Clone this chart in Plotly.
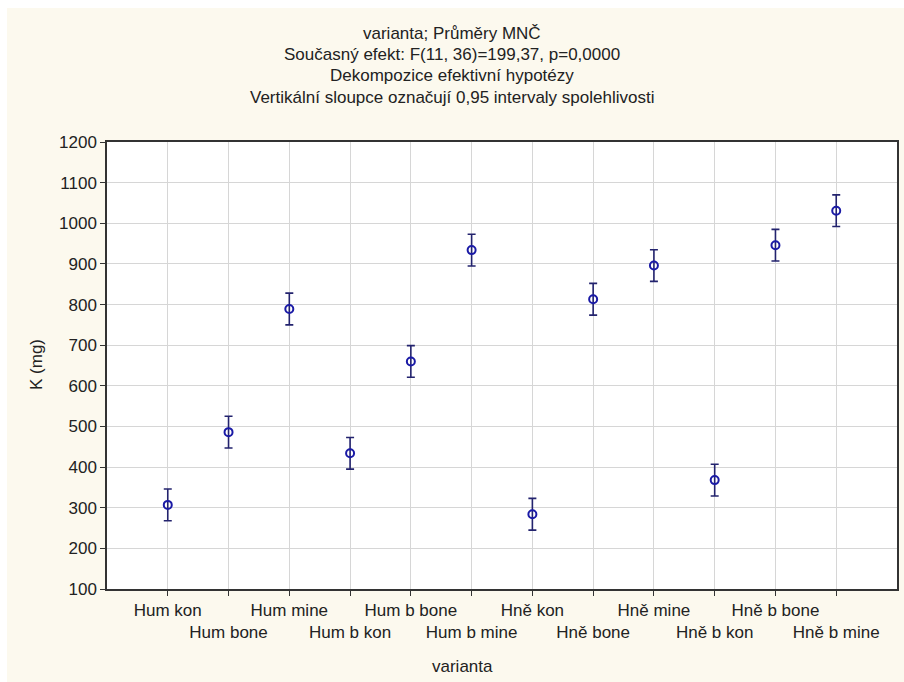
import plotly.graph_objects as go

categories = ["Hum kon", "Hum bone", "Hum mine", "Hum b kon", "Hum b bone", "Hum b mine",
              "Hně kon", "Hně bone", "Hně mine", "Hně b kon", "Hně b bone", "Hně b mine"]
means = [307, 486, 789, 434, 660, 934, 284, 813, 896, 368, 946, 1031]
ci_half = [39, 39, 39, 39, 39, 39, 39, 39, 39, 39, 39, 39]
y_ticks = [100, 200, 300, 400, 500, 600, 700, 800, 900, 1000, 1100, 1200]

title_lines = ["varianta; Průměry MNČ",
               "Současný efekt: F(11, 36)=199,37, p=0,0000",
               "Dekompozice efektivní hypotézy",
               "Vertikální sloupce označují 0,95 intervaly spolehlivosti"]

W, H = 904, 682
L, R, T, B = 107, 7, 142, 93
plot_h = H - T - B
plot_w = W - L - R

x_pos = list(range(1, len(categories) + 1))
tick_text = [c if i % 2 == 0 else "<br>" + c for i, c in enumerate(categories)]

FONT = "Liberation Sans, Arial, sans-serif"
BEIGE = "#fcf9ee"

fig = go.Figure()
fig.add_trace(go.Scatter(
    x=x_pos, y=means, mode="markers",
    marker=dict(symbol="circle-open", size=8, color="#1a1aa6", line=dict(width=2, color="#1a1aa6")),
    error_y=dict(type="data", array=ci_half, visible=True, color="#23236e", thickness=1.6, width=4),
    showlegend=False, hoverinfo="skip",
))

def py(p):
    return (H - B - p) / plot_h

annotations = []
for i, line in enumerate(title_lines):
    annotations.append(dict(text=line, xref="paper", yref="paper",
                            x=(W / 2 - L) / plot_w, y=py(33 + i * 21.4),
                            xanchor="center", yanchor="middle", showarrow=False,
                            font=dict(family=FONT, size=17, color="#222222")))
annotations.append(dict(text="varianta", xref="paper", yref="paper",
                        x=(W / 2 + 10 - L) / plot_w, y=py(666), xanchor="center", yanchor="middle",
                        showarrow=False, font=dict(family=FONT, size=17, color="#222222")))
annotations.append(dict(text="K (mg)", xref="paper", yref="paper",
                        x=(36 - L) / plot_w, y=py(365), xanchor="center", yanchor="middle",
                        textangle=-90, showarrow=False, font=dict(family=FONT, size=17, color="#222222")))

shapes = [
    dict(type="rect", xref="paper", yref="paper", x0=-L / plot_w, x1=(W - L) / plot_w,
         y0=py(0), y1=py(8), fillcolor="white", line=dict(width=0), layer="below"),
    dict(type="rect", xref="paper", yref="paper", x0=-L / plot_w, x1=(7 - L) / plot_w,
         y0=py(H), y1=py(0), fillcolor="white", line=dict(width=0), layer="below"),
]

fig.update_layout(
    width=W, height=H,
    margin=dict(l=L, r=R, t=T, b=B, pad=0, autoexpand=False),
    paper_bgcolor=BEIGE, plot_bgcolor="white",
    annotations=annotations, shapes=shapes,
    xaxis=dict(range=[0, 13], tickmode="array", tickvals=x_pos, ticktext=tick_text,
               tickangle=0, automargin=False,
               showgrid=True, gridcolor="#d6d6d6", gridwidth=1,
               ticks="outside", ticklen=5, tickcolor="#333333",
               showline=True, linecolor="#333333", linewidth=1.5, mirror=True,
               tickfont=dict(family=FONT, size=17, color="#222222"), zeroline=False),
    yaxis=dict(range=[100, 1200], tickmode="array", tickvals=y_ticks, automargin=False,
               showgrid=True, gridcolor="#d6d6d6", gridwidth=1,
               ticks="outside", ticklen=5, tickcolor="#333333",
               showline=True, linecolor="#333333", linewidth=1.5, mirror=True,
               tickfont=dict(family=FONT, size=17, color="#222222"), zeroline=False),
)

fig.write_html("out.html")
